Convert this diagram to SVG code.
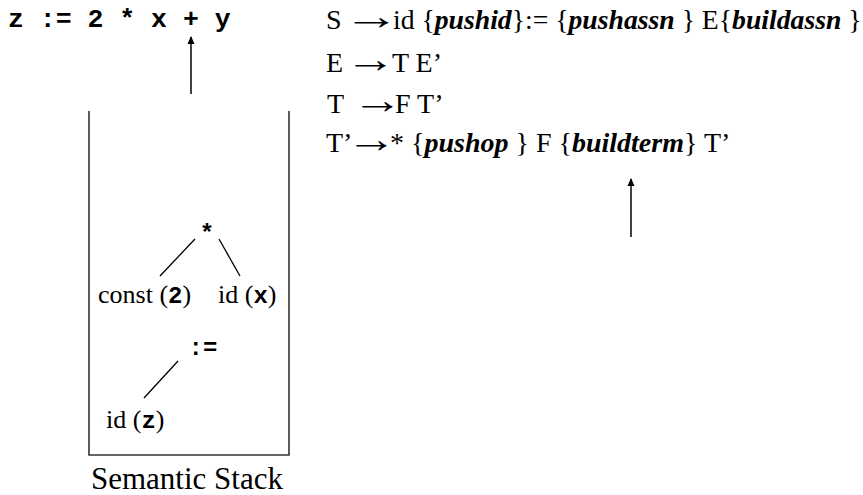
<svg xmlns="http://www.w3.org/2000/svg" width="863" height="495" viewBox="0 0 863 495">
<defs>
<marker id="ah" viewBox="0 0 8 8" refX="7" refY="4" markerWidth="8" markerHeight="8" orient="auto-start-reverse" markerUnits="userSpaceOnUse">
<path d="M0,0.5 L8,4 L0,7.5 z" fill="#000"/>
</marker>
<style>
.mono{font-family:"Liberation Mono","Courier New",monospace;font-weight:bold;fill:#000}
.serif{font-family:"Liberation Serif","Times New Roman",serif;fill:#000;white-space:pre}
.bi{font-weight:bold;font-style:italic}
.arw{font-family:"Liberation Serif","DejaVu Serif",serif;font-size:30px;fill:#000}
.ln{stroke:#000;stroke-width:1.3;fill:none}
.box{stroke:#333;stroke-width:1.6;fill:none}
.arr{stroke:#444;stroke-width:2;fill:none}
</style>
</defs>
<rect width="863" height="495" fill="#fff"/>
<g id="input">
<text class="mono" x="8" y="27" font-size="26.5" xml:space="preserve">z := 2 * x + y</text>
</g>
<g id="grammar" class="serif" font-size="28">
<text x="326" y="29">S</text>
<text class="arw" transform="translate(343,29) scale(1.9,1.3)">→</text>
<text x="393" y="29" font-size="27.7" xml:space="preserve">id {<tspan class="bi">pushid</tspan>}:= {<tspan class="bi">pushassn</tspan> } E{<tspan class="bi">buildassn</tspan> }</text>
<text x="326" y="72">E</text>
<text class="arw" transform="translate(345,72) scale(1.7,1.3)">→</text>
<text x="392" y="72" xml:space="preserve">T E’</text>
<text x="327" y="113">T</text>
<text class="arw" transform="translate(352,113) scale(1.7,1.3)">→</text>
<text x="395" y="113" xml:space="preserve">F T’</text>
<text x="326" y="152">T’</text>
<text class="arw" transform="translate(346,152) scale(1.7,1.3)">→</text>
<text x="390" y="152" xml:space="preserve">* {<tspan class="bi">pushop</tspan> } F {<tspan class="bi">buildterm</tspan>} T’</text>
</g>
<g id="stack">
<path class="box" d="M89,111 V455 H289 V111"/>
<text class="serif" x="187" y="489" font-size="31" text-anchor="middle">Semantic Stack</text>
</g>
<g id="node-star">
<text class="mono" x="207" y="241" font-size="24" text-anchor="middle">*</text>
</g>
<g id="node-const">
<text class="serif" x="98" y="303" font-size="26">const (<tspan class="mono" font-size="24">2</tspan>)</text>
</g>
<g id="node-idx">
<text class="serif" x="218" y="303" font-size="26">id (<tspan class="mono" font-size="24">x</tspan>)</text>
</g>
<g id="node-assign">
<text class="mono" x="203" y="355" font-size="24" text-anchor="middle">:=</text>
</g>
<g id="node-idz">
<text class="serif" x="106" y="428" font-size="26">id (<tspan class="mono" font-size="24">z</tspan>)</text>
</g>
<g id="connectors">
<line class="ln" x1="195" y1="239" x2="160" y2="276"/>
<line class="ln" x1="219" y1="239" x2="240" y2="276"/>
<line class="ln" x1="178" y1="361" x2="144" y2="398"/>
<line class="arr" x1="191" y1="94" x2="191" y2="37" marker-end="url(#ah)"/>
<line class="arr" x1="631" y1="237" x2="631" y2="179" marker-end="url(#ah)"/>
</g>
</svg>
